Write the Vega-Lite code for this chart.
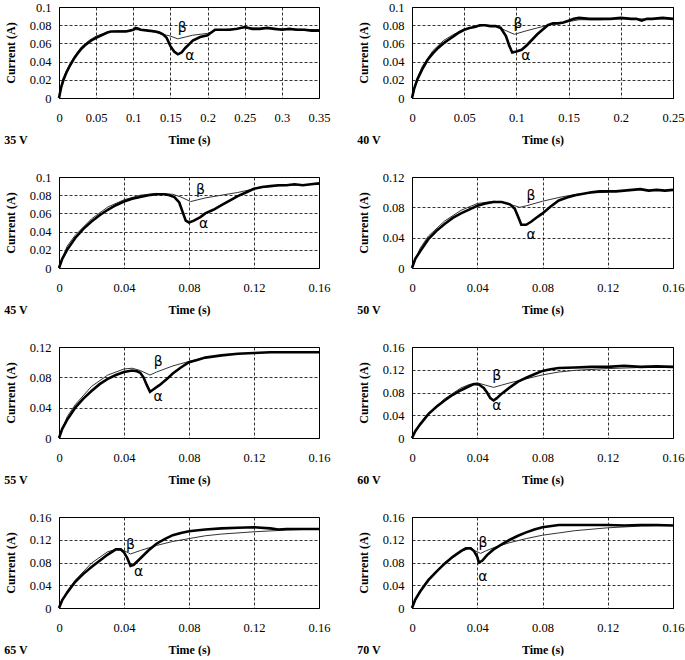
{
"$schema": "https://vega.github.io/schema/vega-lite/v6.json",
"padding": {"left": 3, "top": 0, "right": 0, "bottom": 0},
"background": "white",
"config": {
 "font": "Liberation Serif",
 "view": {"stroke": "black", "strokeWidth": 1},
 "axis": {"domain": false, "ticks": false, "grid": true, "gridColor": "#000", "gridDash": [3, 2], "gridWidth": 0.8, "gridOpacity": 1, "labelFont": "Liberation Serif", "labelFontSize": 12.5, "labelColor": "#000", "titleFont": "Liberation Serif", "titleFontSize": 12, "titleFontWeight": "bold", "titleColor": "#000", "labelOverlap": false, "labelFlush": false},
 "axisX": {"labelPadding": 13, "titlePadding": 11},
 "axisY": {"labelPadding": 8, "titlePadding": 12},
 "title": {"font": "Liberation Serif", "fontSize": 12, "fontWeight": "bold", "orient": "bottom", "anchor": "start", "frame": "bounds", "offset": -11, "color": "#000"}
},
"datasets": {
 "c": [
{"p":"35","s":"a","t":0,"i":0},{"p":"35","s":"a","t":0.003,"i":0.012},{"p":"35","s":"a","t":0.006,"i":0.02},{"p":"35","s":"a","t":0.01,"i":0.028},{"p":"35","s":"a","t":0.015,"i":0.036},{"p":"35","s":"a","t":0.02,"i":0.043},{"p":"35","s":"a","t":0.025,"i":0.049},{"p":"35","s":"a","t":0.03,"i":0.054},{"p":"35","s":"a","t":0.035,"i":0.058},{"p":"35","s":"a","t":0.04,"i":0.061},{"p":"35","s":"a","t":0.045,"i":0.064},{"p":"35","s":"a","t":0.05,"i":0.066},{"p":"35","s":"a","t":0.055,"i":0.068},{"p":"35","s":"a","t":0.06,"i":0.07},{"p":"35","s":"a","t":0.065,"i":0.072},{"p":"35","s":"a","t":0.07,"i":0.073},{"p":"35","s":"a","t":0.08,"i":0.073},{"p":"35","s":"a","t":0.09,"i":0.073},{"p":"35","s":"a","t":0.095,"i":0.074},{"p":"35","s":"a","t":0.1,"i":0.075},{"p":"35","s":"a","t":0.103,"i":0.077},{"p":"35","s":"a","t":0.107,"i":0.076},{"p":"35","s":"a","t":0.11,"i":0.075},{"p":"35","s":"a","t":0.12,"i":0.074},{"p":"35","s":"a","t":0.13,"i":0.073},{"p":"35","s":"a","t":0.135,"i":0.072},{"p":"35","s":"a","t":0.14,"i":0.07},{"p":"35","s":"a","t":0.145,"i":0.066},{"p":"35","s":"a","t":0.15,"i":0.057},{"p":"35","s":"a","t":0.155,"i":0.051},{"p":"35","s":"a","t":0.16,"i":0.048},{"p":"35","s":"a","t":0.165,"i":0.05},{"p":"35","s":"a","t":0.17,"i":0.055},{"p":"35","s":"a","t":0.175,"i":0.059},{"p":"35","s":"a","t":0.18,"i":0.063},{"p":"35","s":"a","t":0.19,"i":0.067},{"p":"35","s":"a","t":0.2,"i":0.069},{"p":"35","s":"a","t":0.205,"i":0.072},{"p":"35","s":"a","t":0.21,"i":0.075},{"p":"35","s":"a","t":0.22,"i":0.075},{"p":"35","s":"a","t":0.23,"i":0.075},{"p":"35","s":"a","t":0.24,"i":0.076},{"p":"35","s":"a","t":0.25,"i":0.078},{"p":"35","s":"a","t":0.26,"i":0.076},{"p":"35","s":"a","t":0.27,"i":0.076},{"p":"35","s":"a","t":0.28,"i":0.077},{"p":"35","s":"a","t":0.29,"i":0.076},{"p":"35","s":"a","t":0.3,"i":0.075},{"p":"35","s":"a","t":0.31,"i":0.076},{"p":"35","s":"a","t":0.32,"i":0.075},{"p":"35","s":"a","t":0.33,"i":0.075},{"p":"35","s":"a","t":0.34,"i":0.074},{"p":"35","s":"a","t":0.35,"i":0.074},
{"p":"35","s":"b","t":0,"i":0},{"p":"35","s":"b","t":0.005,"i":0.02},{"p":"35","s":"b","t":0.01,"i":0.03},{"p":"35","s":"b","t":0.02,"i":0.045},{"p":"35","s":"b","t":0.03,"i":0.056},{"p":"35","s":"b","t":0.04,"i":0.063},{"p":"35","s":"b","t":0.05,"i":0.068},{"p":"35","s":"b","t":0.06,"i":0.071},{"p":"35","s":"b","t":0.07,"i":0.073},{"p":"35","s":"b","t":0.08,"i":0.074},{"p":"35","s":"b","t":0.09,"i":0.074},{"p":"35","s":"b","t":0.1,"i":0.075},{"p":"35","s":"b","t":0.11,"i":0.075},{"p":"35","s":"b","t":0.12,"i":0.074},{"p":"35","s":"b","t":0.13,"i":0.072},{"p":"35","s":"b","t":0.14,"i":0.07},{"p":"35","s":"b","t":0.15,"i":0.068},{"p":"35","s":"b","t":0.16,"i":0.065},{"p":"35","s":"b","t":0.17,"i":0.067},{"p":"35","s":"b","t":0.18,"i":0.069},{"p":"35","s":"b","t":0.19,"i":0.07},{"p":"35","s":"b","t":0.2,"i":0.071},{"p":"35","s":"b","t":0.21,"i":0.074},{"p":"35","s":"b","t":0.22,"i":0.075},{"p":"35","s":"b","t":0.25,"i":0.077},{"p":"35","s":"b","t":0.3,"i":0.076},{"p":"35","s":"b","t":0.35,"i":0.075},
{"p":"40","s":"a","t":0,"i":0},{"p":"40","s":"a","t":0.002,"i":0.01},{"p":"40","s":"a","t":0.005,"i":0.02},{"p":"40","s":"a","t":0.01,"i":0.032},{"p":"40","s":"a","t":0.015,"i":0.042},{"p":"40","s":"a","t":0.02,"i":0.049},{"p":"40","s":"a","t":0.025,"i":0.055},{"p":"40","s":"a","t":0.03,"i":0.06},{"p":"40","s":"a","t":0.035,"i":0.064},{"p":"40","s":"a","t":0.04,"i":0.068},{"p":"40","s":"a","t":0.045,"i":0.072},{"p":"40","s":"a","t":0.05,"i":0.075},{"p":"40","s":"a","t":0.055,"i":0.077},{"p":"40","s":"a","t":0.06,"i":0.078},{"p":"40","s":"a","t":0.065,"i":0.08},{"p":"40","s":"a","t":0.07,"i":0.08},{"p":"40","s":"a","t":0.075,"i":0.079},{"p":"40","s":"a","t":0.08,"i":0.079},{"p":"40","s":"a","t":0.085,"i":0.077},{"p":"40","s":"a","t":0.09,"i":0.068},{"p":"40","s":"a","t":0.093,"i":0.058},{"p":"40","s":"a","t":0.096,"i":0.05},{"p":"40","s":"a","t":0.1,"i":0.051},{"p":"40","s":"a","t":0.105,"i":0.053},{"p":"40","s":"a","t":0.11,"i":0.058},{"p":"40","s":"a","t":0.115,"i":0.064},{"p":"40","s":"a","t":0.12,"i":0.07},{"p":"40","s":"a","t":0.125,"i":0.075},{"p":"40","s":"a","t":0.13,"i":0.08},{"p":"40","s":"a","t":0.135,"i":0.082},{"p":"40","s":"a","t":0.14,"i":0.082},{"p":"40","s":"a","t":0.145,"i":0.083},{"p":"40","s":"a","t":0.15,"i":0.085},{"p":"40","s":"a","t":0.155,"i":0.087},{"p":"40","s":"a","t":0.16,"i":0.088},{"p":"40","s":"a","t":0.17,"i":0.087},{"p":"40","s":"a","t":0.18,"i":0.087},{"p":"40","s":"a","t":0.19,"i":0.087},{"p":"40","s":"a","t":0.2,"i":0.088},{"p":"40","s":"a","t":0.21,"i":0.087},{"p":"40","s":"a","t":0.215,"i":0.087},{"p":"40","s":"a","t":0.22,"i":0.085},{"p":"40","s":"a","t":0.225,"i":0.087},{"p":"40","s":"a","t":0.23,"i":0.087},{"p":"40","s":"a","t":0.24,"i":0.088},{"p":"40","s":"a","t":0.25,"i":0.087},
{"p":"40","s":"b","t":0,"i":0},{"p":"40","s":"b","t":0.005,"i":0.022},{"p":"40","s":"b","t":0.01,"i":0.035},{"p":"40","s":"b","t":0.02,"i":0.052},{"p":"40","s":"b","t":0.03,"i":0.063},{"p":"40","s":"b","t":0.04,"i":0.07},{"p":"40","s":"b","t":0.05,"i":0.075},{"p":"40","s":"b","t":0.06,"i":0.078},{"p":"40","s":"b","t":0.07,"i":0.08},{"p":"40","s":"b","t":0.08,"i":0.079},{"p":"40","s":"b","t":0.09,"i":0.074},{"p":"40","s":"b","t":0.098,"i":0.07},{"p":"40","s":"b","t":0.11,"i":0.074},{"p":"40","s":"b","t":0.12,"i":0.077},{"p":"40","s":"b","t":0.13,"i":0.08},{"p":"40","s":"b","t":0.14,"i":0.082},{"p":"40","s":"b","t":0.15,"i":0.084},{"p":"40","s":"b","t":0.16,"i":0.086},{"p":"40","s":"b","t":0.18,"i":0.086},{"p":"40","s":"b","t":0.2,"i":0.087},{"p":"40","s":"b","t":0.25,"i":0.087},
{"p":"45","s":"a","t":0,"i":0},{"p":"45","s":"a","t":0.002,"i":0.01},{"p":"45","s":"a","t":0.005,"i":0.02},{"p":"45","s":"a","t":0.01,"i":0.033},{"p":"45","s":"a","t":0.015,"i":0.043},{"p":"45","s":"a","t":0.02,"i":0.051},{"p":"45","s":"a","t":0.025,"i":0.058},{"p":"45","s":"a","t":0.03,"i":0.064},{"p":"45","s":"a","t":0.035,"i":0.069},{"p":"45","s":"a","t":0.04,"i":0.073},{"p":"45","s":"a","t":0.045,"i":0.076},{"p":"45","s":"a","t":0.05,"i":0.078},{"p":"45","s":"a","t":0.055,"i":0.08},{"p":"45","s":"a","t":0.06,"i":0.081},{"p":"45","s":"a","t":0.065,"i":0.081},{"p":"45","s":"a","t":0.068,"i":0.08},{"p":"45","s":"a","t":0.071,"i":0.078},{"p":"45","s":"a","t":0.074,"i":0.072},{"p":"45","s":"a","t":0.076,"i":0.062},{"p":"45","s":"a","t":0.078,"i":0.052},{"p":"45","s":"a","t":0.08,"i":0.05},{"p":"45","s":"a","t":0.083,"i":0.052},{"p":"45","s":"a","t":0.087,"i":0.056},{"p":"45","s":"a","t":0.09,"i":0.06},{"p":"45","s":"a","t":0.095,"i":0.064},{"p":"45","s":"a","t":0.1,"i":0.069},{"p":"45","s":"a","t":0.105,"i":0.074},{"p":"45","s":"a","t":0.11,"i":0.079},{"p":"45","s":"a","t":0.115,"i":0.083},{"p":"45","s":"a","t":0.12,"i":0.087},{"p":"45","s":"a","t":0.125,"i":0.089},{"p":"45","s":"a","t":0.13,"i":0.09},{"p":"45","s":"a","t":0.135,"i":0.091},{"p":"45","s":"a","t":0.14,"i":0.091},{"p":"45","s":"a","t":0.145,"i":0.092},{"p":"45","s":"a","t":0.15,"i":0.091},{"p":"45","s":"a","t":0.155,"i":0.092},{"p":"45","s":"a","t":0.16,"i":0.093},
{"p":"45","s":"b","t":0,"i":0},{"p":"45","s":"b","t":0.005,"i":0.024},{"p":"45","s":"b","t":0.01,"i":0.036},{"p":"45","s":"b","t":0.02,"i":0.054},{"p":"45","s":"b","t":0.03,"i":0.067},{"p":"45","s":"b","t":0.04,"i":0.075},{"p":"45","s":"b","t":0.05,"i":0.08},{"p":"45","s":"b","t":0.06,"i":0.082},{"p":"45","s":"b","t":0.07,"i":0.081},{"p":"45","s":"b","t":0.075,"i":0.078},{"p":"45","s":"b","t":0.081,"i":0.073},{"p":"45","s":"b","t":0.09,"i":0.077},{"p":"45","s":"b","t":0.1,"i":0.08},{"p":"45","s":"b","t":0.11,"i":0.083},{"p":"45","s":"b","t":0.12,"i":0.087},{"p":"45","s":"b","t":0.13,"i":0.09},{"p":"45","s":"b","t":0.16,"i":0.092},
{"p":"50","s":"a","t":0,"i":0},{"p":"50","s":"a","t":0.002,"i":0.012},{"p":"50","s":"a","t":0.005,"i":0.022},{"p":"50","s":"a","t":0.01,"i":0.038},{"p":"50","s":"a","t":0.015,"i":0.049},{"p":"50","s":"a","t":0.02,"i":0.058},{"p":"50","s":"a","t":0.025,"i":0.066},{"p":"50","s":"a","t":0.03,"i":0.072},{"p":"50","s":"a","t":0.035,"i":0.077},{"p":"50","s":"a","t":0.04,"i":0.082},{"p":"50","s":"a","t":0.045,"i":0.085},{"p":"50","s":"a","t":0.05,"i":0.087},{"p":"50","s":"a","t":0.055,"i":0.087},{"p":"50","s":"a","t":0.06,"i":0.084},{"p":"50","s":"a","t":0.063,"i":0.078},{"p":"50","s":"a","t":0.065,"i":0.068},{"p":"50","s":"a","t":0.067,"i":0.057},{"p":"50","s":"a","t":0.07,"i":0.057},{"p":"50","s":"a","t":0.073,"i":0.061},{"p":"50","s":"a","t":0.076,"i":0.066},{"p":"50","s":"a","t":0.08,"i":0.072},{"p":"50","s":"a","t":0.085,"i":0.081},{"p":"50","s":"a","t":0.09,"i":0.089},{"p":"50","s":"a","t":0.095,"i":0.093},{"p":"50","s":"a","t":0.1,"i":0.096},{"p":"50","s":"a","t":0.105,"i":0.098},{"p":"50","s":"a","t":0.11,"i":0.1},{"p":"50","s":"a","t":0.115,"i":0.101},{"p":"50","s":"a","t":0.12,"i":0.101},{"p":"50","s":"a","t":0.125,"i":0.101},{"p":"50","s":"a","t":0.13,"i":0.102},{"p":"50","s":"a","t":0.135,"i":0.103},{"p":"50","s":"a","t":0.14,"i":0.104},{"p":"50","s":"a","t":0.145,"i":0.102},{"p":"50","s":"a","t":0.15,"i":0.103},{"p":"50","s":"a","t":0.155,"i":0.102},{"p":"50","s":"a","t":0.16,"i":0.103},
{"p":"50","s":"b","t":0,"i":0},{"p":"50","s":"b","t":0.005,"i":0.026},{"p":"50","s":"b","t":0.01,"i":0.042},{"p":"50","s":"b","t":0.02,"i":0.062},{"p":"50","s":"b","t":0.03,"i":0.076},{"p":"50","s":"b","t":0.04,"i":0.085},{"p":"50","s":"b","t":0.05,"i":0.088},{"p":"50","s":"b","t":0.055,"i":0.087},{"p":"50","s":"b","t":0.06,"i":0.084},{"p":"50","s":"b","t":0.066,"i":0.08},{"p":"50","s":"b","t":0.07,"i":0.082},{"p":"50","s":"b","t":0.08,"i":0.088},{"p":"50","s":"b","t":0.09,"i":0.093},{"p":"50","s":"b","t":0.1,"i":0.097},{"p":"50","s":"b","t":0.11,"i":0.099},{"p":"50","s":"b","t":0.12,"i":0.1},
{"p":"55","s":"a","t":0,"i":0},{"p":"55","s":"a","t":0.002,"i":0.012},{"p":"55","s":"a","t":0.005,"i":0.024},{"p":"55","s":"a","t":0.01,"i":0.04},{"p":"55","s":"a","t":0.015,"i":0.052},{"p":"55","s":"a","t":0.02,"i":0.062},{"p":"55","s":"a","t":0.025,"i":0.071},{"p":"55","s":"a","t":0.03,"i":0.078},{"p":"55","s":"a","t":0.035,"i":0.083},{"p":"55","s":"a","t":0.04,"i":0.087},{"p":"55","s":"a","t":0.045,"i":0.089},{"p":"55","s":"a","t":0.048,"i":0.088},{"p":"55","s":"a","t":0.05,"i":0.086},{"p":"55","s":"a","t":0.052,"i":0.08},{"p":"55","s":"a","t":0.054,"i":0.07},{"p":"55","s":"a","t":0.056,"i":0.061},{"p":"55","s":"a","t":0.058,"i":0.064},{"p":"55","s":"a","t":0.062,"i":0.07},{"p":"55","s":"a","t":0.066,"i":0.077},{"p":"55","s":"a","t":0.07,"i":0.085},{"p":"55","s":"a","t":0.075,"i":0.093},{"p":"55","s":"a","t":0.08,"i":0.1},{"p":"55","s":"a","t":0.085,"i":0.103},{"p":"55","s":"a","t":0.09,"i":0.106},{"p":"55","s":"a","t":0.1,"i":0.109},{"p":"55","s":"a","t":0.11,"i":0.111},{"p":"55","s":"a","t":0.12,"i":0.112},{"p":"55","s":"a","t":0.13,"i":0.113},{"p":"55","s":"a","t":0.14,"i":0.113},{"p":"55","s":"a","t":0.15,"i":0.113},{"p":"55","s":"a","t":0.16,"i":0.113},
{"p":"55","s":"b","t":0,"i":0},{"p":"55","s":"b","t":0.005,"i":0.028},{"p":"55","s":"b","t":0.01,"i":0.044},{"p":"55","s":"b","t":0.02,"i":0.068},{"p":"55","s":"b","t":0.03,"i":0.083},{"p":"55","s":"b","t":0.04,"i":0.091},{"p":"55","s":"b","t":0.045,"i":0.092},{"p":"55","s":"b","t":0.05,"i":0.089},{"p":"55","s":"b","t":0.056,"i":0.083},{"p":"55","s":"b","t":0.06,"i":0.087},{"p":"55","s":"b","t":0.07,"i":0.095},{"p":"55","s":"b","t":0.08,"i":0.101},{"p":"55","s":"b","t":0.09,"i":0.106},{"p":"55","s":"b","t":0.1,"i":0.109},
{"p":"60","s":"a","t":0,"i":0},{"p":"60","s":"a","t":0.002,"i":0.012},{"p":"60","s":"a","t":0.005,"i":0.024},{"p":"60","s":"a","t":0.01,"i":0.042},{"p":"60","s":"a","t":0.015,"i":0.055},{"p":"60","s":"a","t":0.02,"i":0.066},{"p":"60","s":"a","t":0.025,"i":0.076},{"p":"60","s":"a","t":0.03,"i":0.084},{"p":"60","s":"a","t":0.035,"i":0.091},{"p":"60","s":"a","t":0.038,"i":0.095},{"p":"60","s":"a","t":0.041,"i":0.094},{"p":"60","s":"a","t":0.044,"i":0.088},{"p":"60","s":"a","t":0.046,"i":0.08},{"p":"60","s":"a","t":0.048,"i":0.07},{"p":"60","s":"a","t":0.05,"i":0.066},{"p":"60","s":"a","t":0.052,"i":0.07},{"p":"60","s":"a","t":0.055,"i":0.078},{"p":"60","s":"a","t":0.06,"i":0.089},{"p":"60","s":"a","t":0.065,"i":0.099},{"p":"60","s":"a","t":0.07,"i":0.106},{"p":"60","s":"a","t":0.075,"i":0.112},{"p":"60","s":"a","t":0.08,"i":0.118},{"p":"60","s":"a","t":0.085,"i":0.121},{"p":"60","s":"a","t":0.09,"i":0.123},{"p":"60","s":"a","t":0.1,"i":0.124},{"p":"60","s":"a","t":0.11,"i":0.125},{"p":"60","s":"a","t":0.12,"i":0.125},{"p":"60","s":"a","t":0.13,"i":0.127},{"p":"60","s":"a","t":0.14,"i":0.125},{"p":"60","s":"a","t":0.15,"i":0.126},{"p":"60","s":"a","t":0.16,"i":0.125},
{"p":"60","s":"b","t":0,"i":0},{"p":"60","s":"b","t":0.005,"i":0.026},{"p":"60","s":"b","t":0.01,"i":0.043},{"p":"60","s":"b","t":0.02,"i":0.069},{"p":"60","s":"b","t":0.03,"i":0.088},{"p":"60","s":"b","t":0.035,"i":0.094},{"p":"60","s":"b","t":0.04,"i":0.097},{"p":"60","s":"b","t":0.045,"i":0.093},{"p":"60","s":"b","t":0.05,"i":0.089},{"p":"60","s":"b","t":0.055,"i":0.093},{"p":"60","s":"b","t":0.06,"i":0.097},{"p":"60","s":"b","t":0.07,"i":0.104},{"p":"60","s":"b","t":0.08,"i":0.111},{"p":"60","s":"b","t":0.09,"i":0.116},{"p":"60","s":"b","t":0.1,"i":0.119},{"p":"60","s":"b","t":0.12,"i":0.122},{"p":"60","s":"b","t":0.14,"i":0.124},{"p":"60","s":"b","t":0.16,"i":0.125},
{"p":"65","s":"a","t":0,"i":0},{"p":"65","s":"a","t":0.002,"i":0.014},{"p":"65","s":"a","t":0.005,"i":0.027},{"p":"65","s":"a","t":0.01,"i":0.046},{"p":"65","s":"a","t":0.015,"i":0.06},{"p":"65","s":"a","t":0.02,"i":0.072},{"p":"65","s":"a","t":0.025,"i":0.083},{"p":"65","s":"a","t":0.03,"i":0.094},{"p":"65","s":"a","t":0.035,"i":0.103},{"p":"65","s":"a","t":0.038,"i":0.103},{"p":"65","s":"a","t":0.04,"i":0.098},{"p":"65","s":"a","t":0.042,"i":0.088},{"p":"65","s":"a","t":0.044,"i":0.074},{"p":"65","s":"a","t":0.046,"i":0.076},{"p":"65","s":"a","t":0.05,"i":0.087},{"p":"65","s":"a","t":0.055,"i":0.101},{"p":"65","s":"a","t":0.06,"i":0.113},{"p":"65","s":"a","t":0.065,"i":0.121},{"p":"65","s":"a","t":0.07,"i":0.128},{"p":"65","s":"a","t":0.075,"i":0.132},{"p":"65","s":"a","t":0.08,"i":0.135},{"p":"65","s":"a","t":0.09,"i":0.138},{"p":"65","s":"a","t":0.1,"i":0.14},{"p":"65","s":"a","t":0.11,"i":0.141},{"p":"65","s":"a","t":0.12,"i":0.142},{"p":"65","s":"a","t":0.13,"i":0.14},{"p":"65","s":"a","t":0.135,"i":0.138},{"p":"65","s":"a","t":0.14,"i":0.139},{"p":"65","s":"a","t":0.15,"i":0.139},{"p":"65","s":"a","t":0.16,"i":0.139},
{"p":"65","s":"b","t":0,"i":0},{"p":"65","s":"b","t":0.005,"i":0.03},{"p":"65","s":"b","t":0.01,"i":0.049},{"p":"65","s":"b","t":0.02,"i":0.079},{"p":"65","s":"b","t":0.03,"i":0.099},{"p":"65","s":"b","t":0.035,"i":0.103},{"p":"65","s":"b","t":0.04,"i":0.101},{"p":"65","s":"b","t":0.044,"i":0.095},{"p":"65","s":"b","t":0.05,"i":0.101},{"p":"65","s":"b","t":0.06,"i":0.11},{"p":"65","s":"b","t":0.07,"i":0.117},{"p":"65","s":"b","t":0.08,"i":0.122},{"p":"65","s":"b","t":0.09,"i":0.127},{"p":"65","s":"b","t":0.1,"i":0.13},{"p":"65","s":"b","t":0.12,"i":0.134},{"p":"65","s":"b","t":0.14,"i":0.137},{"p":"65","s":"b","t":0.16,"i":0.139},
{"p":"70","s":"a","t":0,"i":0},{"p":"70","s":"a","t":0.002,"i":0.015},{"p":"70","s":"a","t":0.005,"i":0.029},{"p":"70","s":"a","t":0.01,"i":0.049},{"p":"70","s":"a","t":0.015,"i":0.064},{"p":"70","s":"a","t":0.02,"i":0.078},{"p":"70","s":"a","t":0.025,"i":0.09},{"p":"70","s":"a","t":0.03,"i":0.1},{"p":"70","s":"a","t":0.033,"i":0.105},{"p":"70","s":"a","t":0.036,"i":0.105},{"p":"70","s":"a","t":0.038,"i":0.1},{"p":"70","s":"a","t":0.04,"i":0.09},{"p":"70","s":"a","t":0.041,"i":0.08},{"p":"70","s":"a","t":0.043,"i":0.083},{"p":"70","s":"a","t":0.046,"i":0.093},{"p":"70","s":"a","t":0.05,"i":0.103},{"p":"70","s":"a","t":0.055,"i":0.112},{"p":"70","s":"a","t":0.06,"i":0.12},{"p":"70","s":"a","t":0.065,"i":0.127},{"p":"70","s":"a","t":0.07,"i":0.133},{"p":"70","s":"a","t":0.075,"i":0.138},{"p":"70","s":"a","t":0.08,"i":0.142},{"p":"70","s":"a","t":0.09,"i":0.146},{"p":"70","s":"a","t":0.1,"i":0.146},{"p":"70","s":"a","t":0.11,"i":0.146},{"p":"70","s":"a","t":0.12,"i":0.146},{"p":"70","s":"a","t":0.13,"i":0.145},{"p":"70","s":"a","t":0.14,"i":0.146},{"p":"70","s":"a","t":0.15,"i":0.146},{"p":"70","s":"a","t":0.16,"i":0.145},
{"p":"70","s":"b","t":0,"i":0},{"p":"70","s":"b","t":0.005,"i":0.031},{"p":"70","s":"b","t":0.01,"i":0.05},{"p":"70","s":"b","t":0.02,"i":0.08},{"p":"70","s":"b","t":0.03,"i":0.1},{"p":"70","s":"b","t":0.035,"i":0.104},{"p":"70","s":"b","t":0.04,"i":0.099},{"p":"70","s":"b","t":0.042,"i":0.096},{"p":"70","s":"b","t":0.045,"i":0.1},{"p":"70","s":"b","t":0.05,"i":0.106},{"p":"70","s":"b","t":0.06,"i":0.115},{"p":"70","s":"b","t":0.07,"i":0.122},{"p":"70","s":"b","t":0.08,"i":0.128},{"p":"70","s":"b","t":0.09,"i":0.132},{"p":"70","s":"b","t":0.1,"i":0.136},{"p":"70","s":"b","t":0.12,"i":0.141},{"p":"70","s":"b","t":0.14,"i":0.144},{"p":"70","s":"b","t":0.16,"i":0.145}
 ],
 "l": [
{"p":"35","g":"β","t":0.166,"i":0.077},{"p":"35","g":"α","t":0.176,"i":0.046},
{"p":"40","g":"β","t":0.1015,"i":0.081},{"p":"40","g":"α","t":0.109,"i":0.046},
{"p":"45","g":"β","t":0.087,"i":0.086},{"p":"45","g":"α","t":0.089,"i":0.048},
{"p":"50","g":"β","t":0.073,"i":0.095},{"p":"50","g":"α","t":0.073,"i":0.044},
{"p":"55","g":"β","t":0.061,"i":0.1},{"p":"55","g":"α","t":0.061,"i":0.054},
{"p":"60","g":"β","t":0.052,"i":0.109},{"p":"60","g":"α","t":0.052,"i":0.056},
{"p":"65","g":"β","t":0.044,"i":0.111},{"p":"65","g":"α","t":0.049,"i":0.063},
{"p":"70","g":"β","t":0.0435,"i":0.114},{"p":"70","g":"α","t":0.0435,"i":0.0545}
 ]
},
"columns": 2,
"spacing": {"row": 24, "column": 25},
"concat": [
 {"width": 260, "height": 91, "title": "35 V",
  "encoding": {"x": {"field": "t", "type": "quantitative", "scale": {"domain": [0, 0.35], "nice": false}, "axis": {"title": "Time (s)", "format": ".2~f", "values": [0, 0.05, 0.1, 0.15, 0.2, 0.25, 0.3, 0.35]}}, "y": {"field": "i", "type": "quantitative", "scale": {"domain": [0, 0.1], "nice": false}, "axis": {"title": "Current (A)", "format": ".2~f", "values": [0, 0.02, 0.04, 0.06, 0.08, 0.1]}}},
  "layer": [
   {"data": {"name": "c"}, "transform": [{"filter": "datum.p=='35' && datum.s=='b'"}], "mark": {"type": "line", "color": "#333", "strokeWidth": 1}},
   {"data": {"name": "c"}, "transform": [{"filter": "datum.p=='35' && datum.s=='a'"}], "mark": {"type": "line", "color": "#000", "strokeWidth": 2.6}},
   {"data": {"name": "l"}, "transform": [{"filter": "datum.p=='35'"}], "mark": {"type": "text", "fontSize": 14, "color": "#000", "font": "DejaVu Sans"}, "encoding": {"text": {"field": "g"}}}
  ]},
 {"width": 261, "height": 91, "title": "40 V",
  "encoding": {"x": {"field": "t", "type": "quantitative", "scale": {"domain": [0, 0.25], "nice": false}, "axis": {"title": "Time (s)", "format": ".2~f", "values": [0, 0.05, 0.1, 0.15, 0.2, 0.25]}}, "y": {"field": "i", "type": "quantitative", "scale": {"domain": [0, 0.1], "nice": false}, "axis": {"title": "Current (A)", "format": ".2~f", "values": [0, 0.02, 0.04, 0.06, 0.08, 0.1]}}},
  "layer": [
   {"data": {"name": "c"}, "transform": [{"filter": "datum.p=='40' && datum.s=='b'"}], "mark": {"type": "line", "color": "#333", "strokeWidth": 1}},
   {"data": {"name": "c"}, "transform": [{"filter": "datum.p=='40' && datum.s=='a'"}], "mark": {"type": "line", "color": "#000", "strokeWidth": 2.6}},
   {"data": {"name": "l"}, "transform": [{"filter": "datum.p=='40'"}], "mark": {"type": "text", "fontSize": 14, "color": "#000", "font": "DejaVu Sans"}, "encoding": {"text": {"field": "g"}}}
  ]},
 {"width": 260, "height": 91, "title": "45 V",
  "encoding": {"x": {"field": "t", "type": "quantitative", "scale": {"domain": [0, 0.16], "nice": false}, "axis": {"title": "Time (s)", "format": ".2~f", "values": [0, 0.04, 0.08, 0.12, 0.16]}}, "y": {"field": "i", "type": "quantitative", "scale": {"domain": [0, 0.1], "nice": false}, "axis": {"title": "Current (A)", "format": ".2~f", "values": [0, 0.02, 0.04, 0.06, 0.08, 0.1]}}},
  "layer": [
   {"data": {"name": "c"}, "transform": [{"filter": "datum.p=='45' && datum.s=='b'"}], "mark": {"type": "line", "color": "#333", "strokeWidth": 1}},
   {"data": {"name": "c"}, "transform": [{"filter": "datum.p=='45' && datum.s=='a'"}], "mark": {"type": "line", "color": "#000", "strokeWidth": 2.6}},
   {"data": {"name": "l"}, "transform": [{"filter": "datum.p=='45'"}], "mark": {"type": "text", "fontSize": 14, "color": "#000", "font": "DejaVu Sans"}, "encoding": {"text": {"field": "g"}}}
  ]},
 {"width": 261, "height": 91, "title": "50 V",
  "encoding": {"x": {"field": "t", "type": "quantitative", "scale": {"domain": [0, 0.16], "nice": false}, "axis": {"title": "Time (s)", "format": ".2~f", "values": [0, 0.04, 0.08, 0.12, 0.16]}}, "y": {"field": "i", "type": "quantitative", "scale": {"domain": [0, 0.12], "nice": false}, "axis": {"title": "Current (A)", "format": ".2~f", "values": [0, 0.04, 0.08, 0.12]}}},
  "layer": [
   {"data": {"name": "c"}, "transform": [{"filter": "datum.p=='50' && datum.s=='b'"}], "mark": {"type": "line", "color": "#333", "strokeWidth": 1}},
   {"data": {"name": "c"}, "transform": [{"filter": "datum.p=='50' && datum.s=='a'"}], "mark": {"type": "line", "color": "#000", "strokeWidth": 2.6}},
   {"data": {"name": "l"}, "transform": [{"filter": "datum.p=='50'"}], "mark": {"type": "text", "fontSize": 14, "color": "#000", "font": "DejaVu Sans"}, "encoding": {"text": {"field": "g"}}}
  ]},
 {"width": 260, "height": 91, "title": "55 V",
  "encoding": {"x": {"field": "t", "type": "quantitative", "scale": {"domain": [0, 0.16], "nice": false}, "axis": {"title": "Time (s)", "format": ".2~f", "values": [0, 0.04, 0.08, 0.12, 0.16]}}, "y": {"field": "i", "type": "quantitative", "scale": {"domain": [0, 0.12], "nice": false}, "axis": {"title": "Current (A)", "format": ".2~f", "values": [0, 0.04, 0.08, 0.12]}}},
  "layer": [
   {"data": {"name": "c"}, "transform": [{"filter": "datum.p=='55' && datum.s=='b'"}], "mark": {"type": "line", "color": "#333", "strokeWidth": 1}},
   {"data": {"name": "c"}, "transform": [{"filter": "datum.p=='55' && datum.s=='a'"}], "mark": {"type": "line", "color": "#000", "strokeWidth": 2.6}},
   {"data": {"name": "l"}, "transform": [{"filter": "datum.p=='55'"}], "mark": {"type": "text", "fontSize": 14, "color": "#000", "font": "DejaVu Sans"}, "encoding": {"text": {"field": "g"}}}
  ]},
 {"width": 261, "height": 91, "title": "60 V",
  "encoding": {"x": {"field": "t", "type": "quantitative", "scale": {"domain": [0, 0.16], "nice": false}, "axis": {"title": "Time (s)", "format": ".2~f", "values": [0, 0.04, 0.08, 0.12, 0.16]}}, "y": {"field": "i", "type": "quantitative", "scale": {"domain": [0, 0.16], "nice": false}, "axis": {"title": "Current (A)", "format": ".2~f", "values": [0, 0.04, 0.08, 0.12, 0.16]}}},
  "layer": [
   {"data": {"name": "c"}, "transform": [{"filter": "datum.p=='60' && datum.s=='b'"}], "mark": {"type": "line", "color": "#333", "strokeWidth": 1}},
   {"data": {"name": "c"}, "transform": [{"filter": "datum.p=='60' && datum.s=='a'"}], "mark": {"type": "line", "color": "#000", "strokeWidth": 2.6}},
   {"data": {"name": "l"}, "transform": [{"filter": "datum.p=='60'"}], "mark": {"type": "text", "fontSize": 14, "color": "#000", "font": "DejaVu Sans"}, "encoding": {"text": {"field": "g"}}}
  ]},
 {"width": 260, "height": 91, "title": "65 V",
  "encoding": {"x": {"field": "t", "type": "quantitative", "scale": {"domain": [0, 0.16], "nice": false}, "axis": {"title": "Time (s)", "format": ".2~f", "values": [0, 0.04, 0.08, 0.12, 0.16]}}, "y": {"field": "i", "type": "quantitative", "scale": {"domain": [0, 0.16], "nice": false}, "axis": {"title": "Current (A)", "format": ".2~f", "values": [0, 0.04, 0.08, 0.12, 0.16]}}},
  "layer": [
   {"data": {"name": "c"}, "transform": [{"filter": "datum.p=='65' && datum.s=='b'"}], "mark": {"type": "line", "color": "#333", "strokeWidth": 1}},
   {"data": {"name": "c"}, "transform": [{"filter": "datum.p=='65' && datum.s=='a'"}], "mark": {"type": "line", "color": "#000", "strokeWidth": 2.6}},
   {"data": {"name": "l"}, "transform": [{"filter": "datum.p=='65'"}], "mark": {"type": "text", "fontSize": 14, "color": "#000", "font": "DejaVu Sans"}, "encoding": {"text": {"field": "g"}}}
  ]},
 {"width": 261, "height": 91, "title": "70 V",
  "encoding": {"x": {"field": "t", "type": "quantitative", "scale": {"domain": [0, 0.16], "nice": false}, "axis": {"title": "Time (s)", "format": ".2~f", "values": [0, 0.04, 0.08, 0.12, 0.16]}}, "y": {"field": "i", "type": "quantitative", "scale": {"domain": [0, 0.16], "nice": false}, "axis": {"title": "Current (A)", "format": ".2~f", "values": [0, 0.04, 0.08, 0.12, 0.16]}}},
  "layer": [
   {"data": {"name": "c"}, "transform": [{"filter": "datum.p=='70' && datum.s=='b'"}], "mark": {"type": "line", "color": "#333", "strokeWidth": 1}},
   {"data": {"name": "c"}, "transform": [{"filter": "datum.p=='70' && datum.s=='a'"}], "mark": {"type": "line", "color": "#000", "strokeWidth": 2.6}},
   {"data": {"name": "l"}, "transform": [{"filter": "datum.p=='70'"}], "mark": {"type": "text", "fontSize": 14, "color": "#000", "font": "DejaVu Sans"}, "encoding": {"text": {"field": "g"}}}
  ]}
]
}
